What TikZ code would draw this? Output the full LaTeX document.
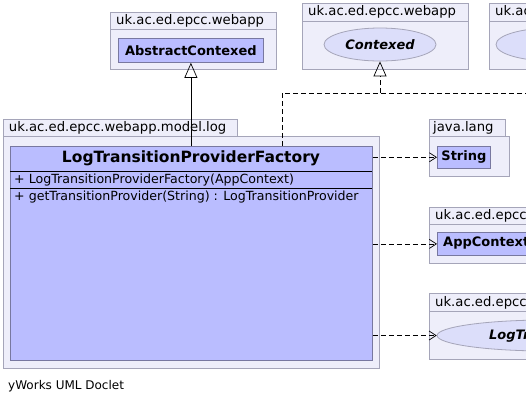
\documentclass[tikz,border=0pt]{standalone}
\usepackage{fontspec}
\setmainfont{DejaVu Sans}
\usetikzlibrary{arrows.meta,shapes.geometric}
\definecolor{pkgfill}{RGB}{238,238,250}
\definecolor{pkgdraw}{RGB}{165,165,185}
\definecolor{clsfill}{RGB}{186,189,255}
\definecolor{clsdraw}{RGB}{120,120,160}
\definecolor{ellfill}{RGB}{220,222,250}
\begin{document}
\begin{tikzpicture}[x=1pt,y=-1pt,
  pkg/.style={draw=pkgdraw,fill=pkgfill,line width=0.8pt,inner sep=0pt,anchor=north west},
  cls/.style={draw=clsdraw,fill=clsfill,line width=0.8pt,inner sep=0pt,anchor=north west},
  iface/.style={ellipse,draw=pkgdraw,fill=ellfill,line width=0.8pt,inner sep=0pt},
  plabel/.style={anchor=west,inner sep=0pt,font=\fontsize{13.2}{15}\selectfont},
  cname/.style={inner sep=0pt,font=\fontsize{13}{15}\selectfont\bfseries},
  member/.style={anchor=west,inner sep=0pt,font=\fontsize{12.6}{14}\selectfont},
  gen/.style={-{Triangle[open,length=15pt,width=13pt]},line width=0.7pt},
  dep/.style={-{Straight Barb[length=7pt,width=9pt]},dash pattern=on 5pt off 3pt,line width=0.7pt},
  realdash/.style={dash pattern=on 5pt off 3pt,line width=0.7pt}]
\useasboundingbox (0,0) rectangle (526,405);
\clip (0,0) rectangle (526,405);
% package 1
\node[pkg,minimum width=166pt,minimum height=57.3pt] (p1) at (110,11.7) {};
\node[pkg,minimum width=166pt,minimum height=17.3pt] (p1t) at (110,11.7) {};
\node[plabel] (p1l) at ([xshift=6pt]p1t.west) {uk.ac.ed.epcc.webapp};
\node[cls,minimum width=145pt,minimum height=24pt] (ac) at (118,38) {};
\node[cname] (acl) at (ac.center) {AbstractContexed};
% package 2
\node[pkg,minimum width=166pt,minimum height=66pt] (p2) at (302,3) {};
\node[pkg,minimum width=166pt,minimum height=17.7pt] (p2t) at (302,3) {};
\node[plabel] (p2l) at ([xshift=6pt]p2t.west) {uk.ac.ed.epcc.webapp};
\node[iface,minimum width=112pt,minimum height=33pt] (ctx) at (380,44.5) {};
\node[cname,font=\fontsize{13}{15}\selectfont\bfseries\itshape] (ctxl) at (ctx.center) {Contexed};
% package 3 (cut)
\node[pkg,minimum width=166pt,minimum height=66pt] (p3) at (489,3) {};
\node[pkg,minimum width=166pt,minimum height=17.7pt] (p3t) at (489,3) {};
\node[plabel] (p3l) at ([xshift=6pt]p3t.west) {uk.ac.ed.epcc.webapp};
\node[iface,minimum width=112pt,minimum height=33pt] (ctx3) at (552,44.5) {};
% main package
\node[pkg,minimum width=234.3pt,minimum height=16.7pt] (pmt) at (2.7,119.3) {};
\node[pkg,minimum width=376.3pt,minimum height=231.7pt] (pm) at (2.7,136) {};
\node[plabel] (pml) at ([xshift=6pt]pmt.west) {uk.ac.ed.epcc.webapp.model.log};
\node[cls,minimum width=362pt,minimum height=214.3pt] (main) at (10,145.7) {};
\draw[line width=0.8pt] (10,171.7) coordinate (s1) -- (372,171.7);
\draw[line width=0.8pt] (10,188) coordinate (s2) -- (372,188);
\node[cname,font=\fontsize{15.5}{18}\selectfont\bfseries] (mainl) at (191,158.7) {LogTransitionProviderFactory};
\node[member] (m1) at (14,180) {+ LogTransitionProviderFactory(AppContext)};
\node[member] (m2) at (14,197.5) {+ getTransitionProvider(String) : LogTransitionProvider};
% String package
\node[pkg,minimum width=76pt,minimum height=16.7pt] (pst) at (429,119.3) {};
\node[pkg,minimum width=80pt,minimum height=40pt] (ps) at (429,136) {};
\node[plabel] (psl) at ([xshift=4pt]pst.west) {java.lang};
\node[cls,minimum width=53pt,minimum height=22.3pt] (str) at (437,145.7) {};
\node[cname] (strl) at (str.center) {String};
% AppContext package
\node[pkg,minimum width=166pt,minimum height=56pt] (pa) at (429,206.7) {};
\node[pkg,minimum width=166pt,minimum height=17.3pt] (pat) at (429,206.7) {};
\node[plabel] (pal) at ([xshift=6pt]pat.west) {uk.ac.ed.epcc.webapp};
\node[cls,minimum width=120pt,minimum height=23pt] (app) at (437,232) {};
\node[cname,anchor=west] (appl) at (443,243.5) {AppContext};
% LogTransitionProvider package
\node[pkg,minimum width=260pt,minimum height=66pt] (pl) at (429,293.3) {};
\node[pkg,minimum width=260pt,minimum height=17.4pt] (plt) at (429,293.3) {};
\node[plabel] (pll) at ([xshift=6pt]plt.west) {uk.ac.ed.epcc.webapp};
\node[iface,minimum width=220pt,minimum height=31pt,anchor=west] (ltp) at (436.7,335.5) {};
\node[cname,anchor=west,font=\fontsize{13}{15}\selectfont\bfseries\itshape] (ltpl) at (489,335.5) {LogTransitionProvider};
% connectors
\draw[gen] (main.north -| ac.south) -- (ac.south);
\coordinate (j1) at (282,93);
\coordinate (j2) at (380,93);
\coordinate (jr) at (530,93);
\draw[realdash] (main.north -| j1) -- (j1) -- (j2) -- (jr);
\draw[gen,dash pattern=on 5pt off 3pt] (j2) -- (ctx.south);
\draw[dep] (main.east |- str.west) -- (str.west);
\draw[dep] (main.east |- app.west) -- (app.west);
\draw[dep] (main.east |- ltp.west) -- (ltp.west);
% footer
\node[anchor=west,inner sep=0pt,font=\fontsize{12}{14}\selectfont] (foot) at (8,386) {yWorks UML Doclet};
\end{tikzpicture}
\end{document}
